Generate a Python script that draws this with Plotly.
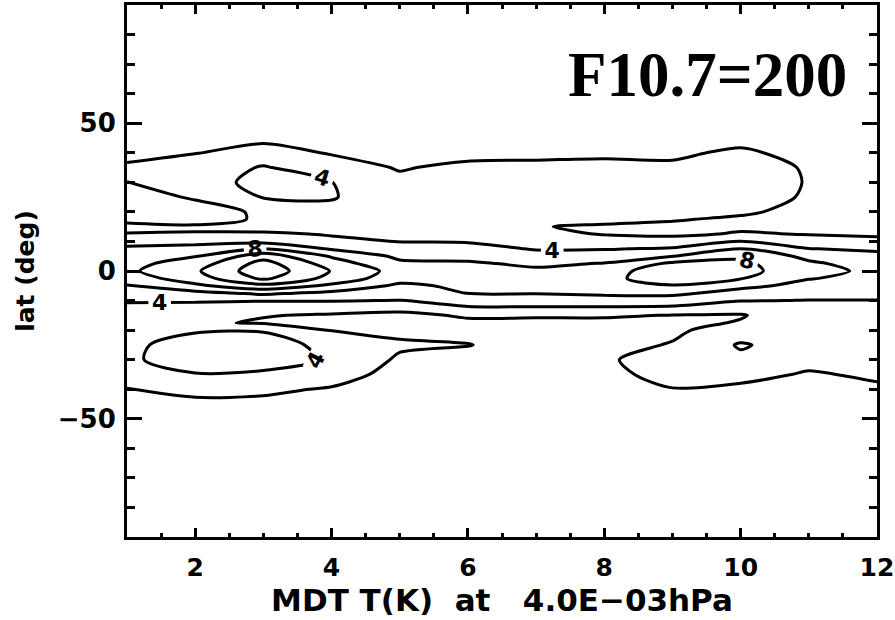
import numpy as np
import plotly.graph_objects as go

# Local time (hours) of each data column and latitude (deg) of each data row
local_time = [1, 2, 3, 4, 5, 6, 7, 8, 9, 10, 11, 12]
lat = [50, 45, 40, 35, 30, 25, 20, 17.5, 15, 12.5, 10, 7.5, 5, 2.5, 0,
       -2.5, -5, -7.5, -10, -12.5, -15, -17.5, -20, -25, -30, -35, -40, -45, -50]

# MDT T(K) amplitude, one list per local-time column (values ordered as `lat`)
t_h01 = [0.8, 1.2, 1.6, 2.2, 1.99, 1.6, 1.7, 1.8, 2.2, 4.3, 5.3, 6.4, 7.0, 7.4, 7.6,
         7.0, 5.9, 5.0, 4.2, 3.5, 3.2, 3.1, 3.2, 3.6, 3.7, 2.8, 1.95, 1.4, 1.0]
t_h02 = [0.9, 1.4, 1.95, 2.6, 2.8, 2.1, 1.6, 1.7, 2.1, 4.8, 5.6, 6.5, 7.9, 8.9, 9.7,
         9.0, 7.6, 5.4, 4.2, 3.3, 2.6, 2.3, 3.8, 4.8, 4.9, 3.9, 2.6, 1.5, 1.0]
t_h03 = [1.0, 1.7, 2.5, 4.2, 4.8, 4.1, 2.15, 2.1, 2.9, 4.4, 5.4, 8.1, 11.2, 12.8, 13.3,
         12.4, 9.4, 6.4, 4.1, 2.9, 2.1, 1.8, 3.85, 4.9, 4.8, 3.7, 2.4, 1.5, 1.0]
t_h04 = [0.9, 1.3, 1.9, 2.6, 4.05, 4.15, 3.4, 3.3, 3.5, 3.8, 4.6, 5.8, 7.8, 9.0, 9.9,
         9.3, 7.6, 5.5, 4.1, 2.9, 1.8, 1.5, 1.9, 3.4, 3.8, 3.0, 1.8, 1.3, 0.9]
t_h05 = [0.6, 0.9, 1.3, 1.9, 2.3, 2.6, 2.8, 2.9, 3.1, 3.5, 3.95, 4.8, 5.6, 6.4, 7.2,
         6.8, 5.6, 4.8, 3.95, 2.5, 1.6, 1.3, 1.5, 2.3, 1.7, 1.2, 1.0, 0.8, 0.6]
t_h06 = [0.7, 1.0, 1.6, 2.3, 2.6, 2.8, 3.0, 3.1, 3.3, 3.6, 3.9, 4.5, 5.4, 6.3, 6.9,
         6.8, 6.4, 6.05, 4.8, 3.8, 2.2, 1.7, 1.5, 2.05, 1.5, 1.1, 0.9, 0.7, 0.5]
t_h07 = [0.7, 1.1, 1.7, 2.3, 2.4, 2.4, 2.2, 2.1, 2.05, 2.5, 3.3, 3.9, 4.6, 5.6, 6.4,
         6.6, 6.5, 6.1, 5.0, 3.8, 2.2, 1.6, 1.4, 1.4, 1.3, 1.2, 1.0, 0.8, 0.6]
t_h08 = [0.8, 1.3, 1.8, 2.3, 2.6, 2.7, 2.6, 2.3, 1.85, 1.9, 3.0, 3.9, 4.9, 6.1, 7.3,
         7.6, 7.2, 6.4, 5.0, 3.8, 2.2, 1.6, 1.4, 1.5, 1.8, 1.6, 1.2, 0.9, 0.7]
t_h09 = [0.8, 1.2, 1.8, 2.2, 2.6, 2.8, 2.5, 2.1, 1.7, 1.6, 2.9, 4.2, 5.95, 8.4, 9.0,
         8.8, 7.9, 6.5, 4.9, 3.7, 1.95, 1.6, 1.7, 2.1, 2.7, 2.5, 1.95, 1.4, 1.0]
t_h10 = [1.0, 1.6, 2.2, 2.7, 2.9, 2.8, 2.2, 1.8, 1.6, 2.2, 4.05, 6.1, 7.6, 8.5, 8.7,
         8.1, 6.6, 5.1, 4.1, 2.6, 1.9, 2.1, 2.8, 4.2, 3.6, 2.6, 1.6, 1.2, 0.9]
t_h11 = [0.8, 1.2, 1.6, 1.85, 1.9, 1.8, 1.6, 1.5, 1.5, 1.9, 2.9, 4.05, 5.5, 6.3, 6.6,
         6.1, 5.3, 4.7, 3.95, 3.3, 2.9, 2.8, 2.9, 3.0, 2.6, 1.8, 1.3, 1.0, 0.8]
t_h12 = [0.8, 1.0, 1.3, 1.5, 1.6, 1.6, 1.5, 1.5, 1.6, 1.7, 2.5, 3.7, 4.5, 5.2, 5.6,
         5.4, 5.0, 4.5, 3.95, 3.2, 2.9, 2.8, 2.8, 2.8, 2.6, 2.3, 1.7, 1.2, 0.9]

columns = [t_h01, t_h02, t_h03, t_h04, t_h05, t_h06,
           t_h07, t_h08, t_h09, t_h10, t_h11, t_h12]
z = np.array(columns).T  # rows = latitude, cols = local time

x_ticks = [2, 4, 6, 8, 10, 12]
y_ticks = [-50, 0, 50]

black = [[0, "black"], [1, "black"]]
fig = go.Figure()
# unlabelled levels (2, 6, 10)
fig.add_trace(go.Contour(
    x=local_time, y=lat, z=z, colorscale=black, showscale=False,
    contours=dict(coloring="lines", start=2, end=10, size=4, showlabels=False),
    line=dict(width=3, smoothing=0.8), hoverinfo="skip"))
# labelled levels (4, 8, 12)
fig.add_trace(go.Contour(
    x=local_time, y=lat, z=z, colorscale=black, showscale=False,
    contours=dict(coloring="lines", start=4, end=12, size=4, showlabels=True,
                  labelfont=dict(family="DejaVu Sans", size=22, color="black", weight="bold")),
    line=dict(width=3, smoothing=0.8), hoverinfo="skip"))

fig.add_annotation(text="F10.7=200", xref="paper", yref="paper", x=0.962, y=0.868,
                   xanchor="right", yanchor="middle", showarrow=False,
                   font=dict(family="Liberation Serif", size=63, color="black", weight="bold"))

fig.update_layout(
    width=895, height=620, margin=dict(l=127, r=18, t=5, b=83, pad=0),
    paper_bgcolor="white", plot_bgcolor="white", showlegend=False,
    xaxis=dict(range=[1, 12], tickvals=x_ticks, ticks="inside", ticklen=9, tickwidth=3,
               minor=dict(dtick=0.5, tick0=0, ticks="inside", ticklen=4, tickwidth=3, tickcolor="black"),
               showline=True, linewidth=3, linecolor="black", mirror="ticks", tickcolor="black",
               showgrid=False, zeroline=False, ticklabelstandoff=6, automargin=False,
               tickfont=dict(family="DejaVu Sans", size=25, color="black", weight="bold"),
               title=dict(text="MDT T(K)\u00a0 at\u00a0\u00a0 4.0E\u221203hPa", standoff=8,
                          font=dict(family="DejaVu Sans", size=31, color="black", weight="bold"))),
    yaxis=dict(range=[-90, 90], tickvals=y_ticks, ticks="inside", ticklen=15, tickwidth=3,
               minor=dict(dtick=10, tick0=0, ticks="inside", ticklen=8, tickwidth=3, tickcolor="black"),
               showline=True, linewidth=3, linecolor="black", mirror="ticks", tickcolor="black",
               showgrid=False, zeroline=False, ticklabelstandoff=3, automargin=False,
               tickfont=dict(family="DejaVu Sans", size=26, color="black", weight="bold"),
               title=dict(text="lat (deg)", standoff=17,
                          font=dict(family="DejaVu Sans", size=25, color="black", weight="bold"))),
)

fig.write_html("out.html")
